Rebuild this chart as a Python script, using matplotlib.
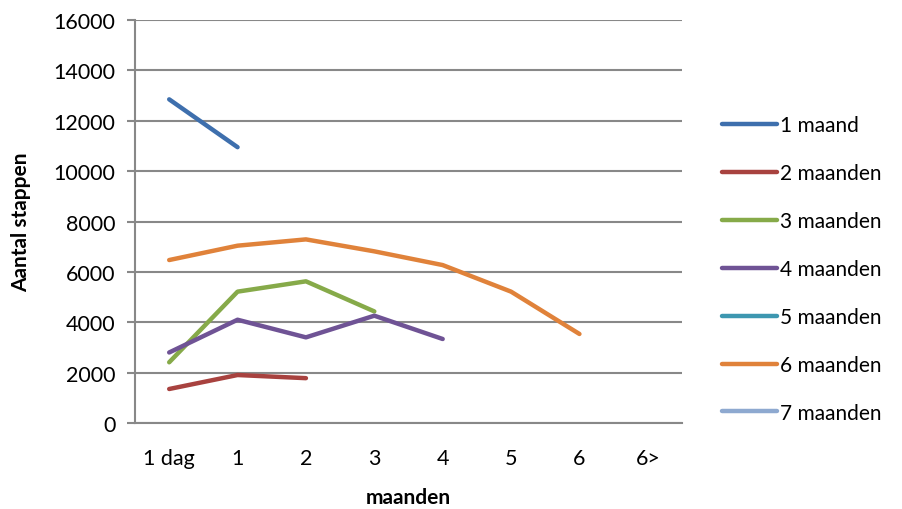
import matplotlib.pyplot as plt
import numpy as np

plt.rcParams['font.family'] = ['Lato', 'DejaVu Sans']

categories = ['1 dag', '1', '2', '3', '4', '5', '6', '6>']
nan = np.nan

series_names = ['1 maand', '2 maanden', '3 maanden', '4 maanden',
                '5 maanden', '6 maanden', '7 maanden']
maand_1 = [12850, 10950, nan, nan, nan, nan, nan, nan]
maanden_2 = [1350, 1905, 1780, nan, nan, nan, nan, nan]
maanden_3 = [2410, 5215, 5625, 4430, nan, nan, nan, nan]
maanden_4 = [2800, 4100, 3400, 4260, 3335, nan, nan, nan]
maanden_5 = [nan] * 8
maanden_6 = [6470, 7040, 7290, 6815, 6270, 5215, 3535, nan]
maanden_7 = [nan] * 8

colors = ['#3E6FAD', '#A8423F', '#86AA49', '#6F5395', '#3D97B0', '#E0823A', '#8EA9D0']

fig = plt.figure(figsize=(9.03, 5.10), dpi=100)
ax = fig.add_axes([135 / 903, 1 - 424 / 510, 547 / 903, 403 / 510])

x = np.arange(len(categories))
all_series = [maand_1, maanden_2, maanden_3, maanden_4, maanden_5, maanden_6, maanden_7]
for name, vals, c in zip(series_names, all_series, colors):
    ax.plot(x, vals, color=c, lw=3.2, solid_capstyle='round', label=name)

ax.set_xlim(-0.5, len(categories) - 0.5)
ax.set_ylim(0, 16000)
ax.set_yticks(np.arange(0, 16001, 2000))
ax.set_xticks(x)
ax.set_xticklabels(categories)

ax.grid(axis='y', color='#888888', lw=1.5)
ax.set_axisbelow(True)
for s in ['top', 'right']:
    ax.spines[s].set_visible(False)
for s in ['left', 'bottom']:
    ax.spines[s].set_color('#888888')
    ax.spines[s].set_linewidth(1.5)
ax.tick_params(axis='y', length=6, width=1.5, color='#888888', labelsize=15.5, pad=8)
ax.tick_params(axis='x', length=0, labelsize=15.5, pad=18)

ax.set_ylabel('Aantal stappen', fontsize=15, fontweight='bold', labelpad=16)
ax.set_xlabel('maanden', fontsize=15, fontweight='bold', labelpad=14)

ax.legend(loc='center left', bbox_to_anchor=(722 / 903, 1 - 270 / 510),
          bbox_transform=fig.transFigure, frameon=False, fontsize=15,
          borderpad=0, borderaxespad=0,
          handlelength=2.65, handletextpad=0.15, labelspacing=1.34)

fig.savefig('out.png', dpi=100)
